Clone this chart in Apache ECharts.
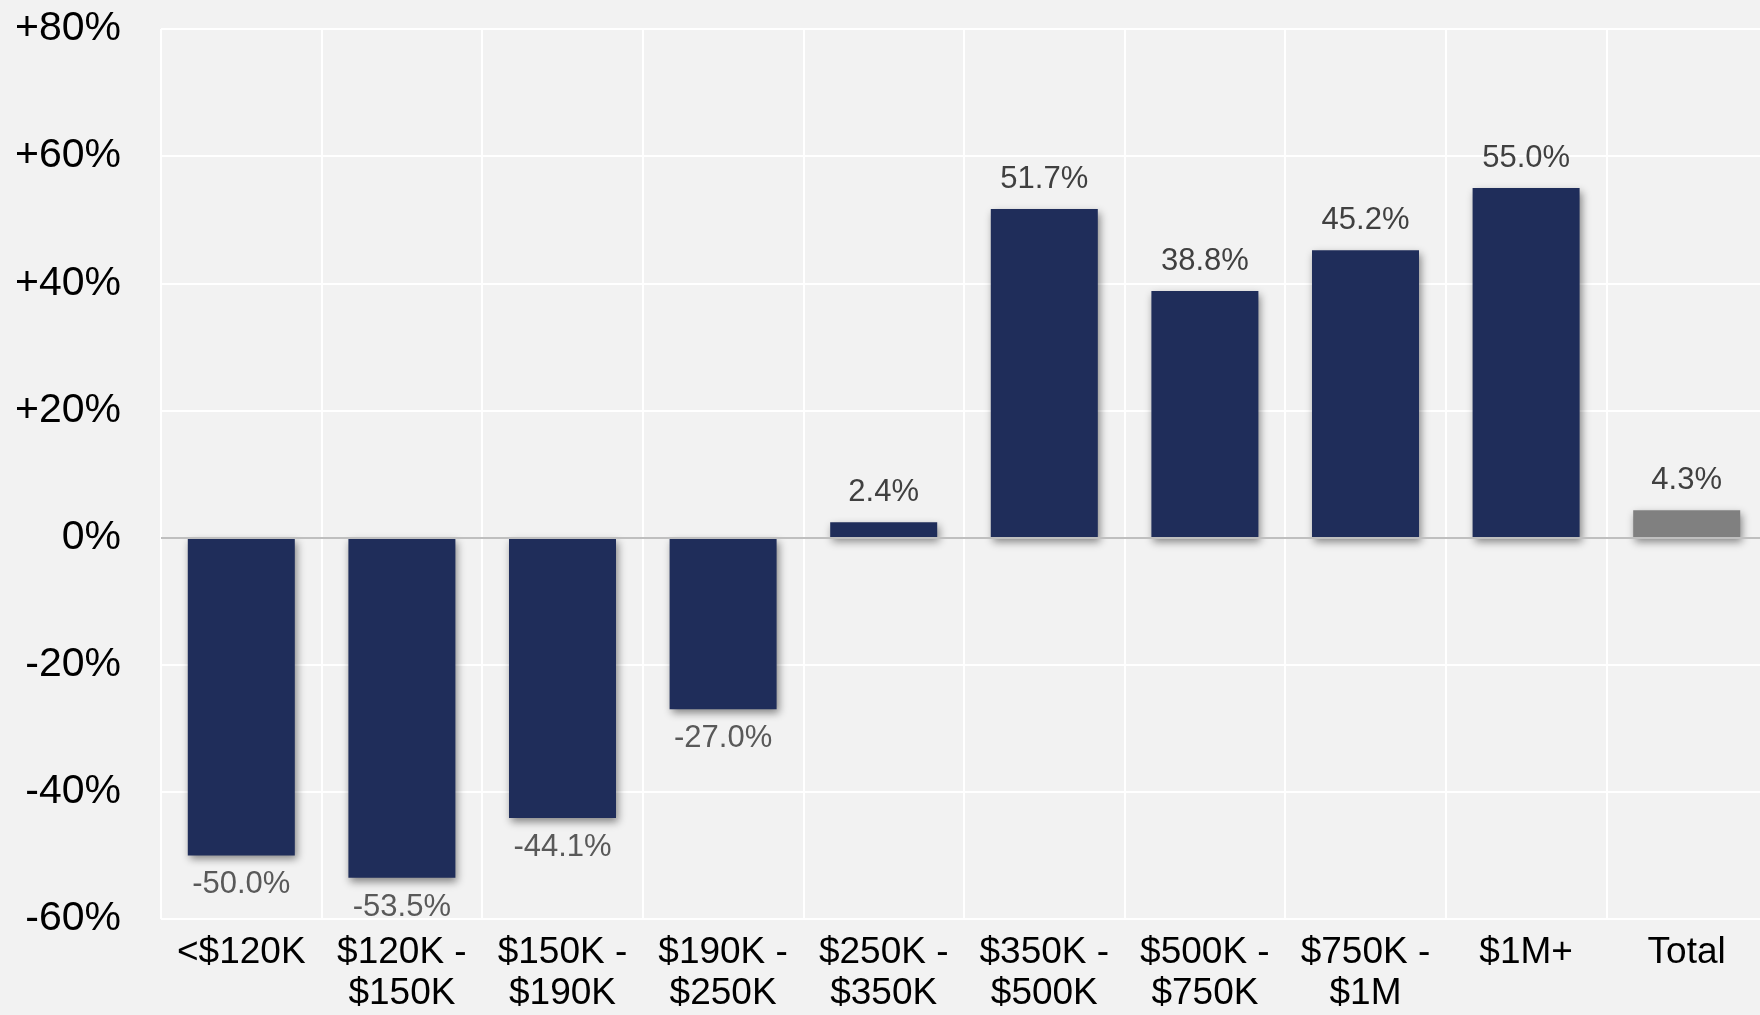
<!DOCTYPE html>
<html>
<head>
<meta charset="utf-8">
<script src="https://cdn.jsdelivr.net/npm/echarts@6/dist/echarts.min.js"></script>
<style>
    html, body { margin: 0; padding: 0; background: #f2f2f2; overflow: hidden; }
    /* the plot runs a few pixels past the right edge of the picture */
    #chart { width: 1767px; height: 1015px; }
</style>
</head>
<body>
<div id="chart"></div>
<script>
    // categories and values
    var categories = ['<$120K', '$120K -\n$150K', '$150K -\n$190K', '$190K -\n$250K', '$250K -\n$350K',
        '$350K -\n$500K', '$500K -\n$750K', '$750K -\n$1M', '$1M+', 'Total'];
    var changes = [-50.0, -53.5, -44.1, -27.0, 2.4, 51.7, 38.8, 45.2, 55.0, 4.3];
    var totalName = 'Total';

    var font = "'Liberation Sans', Arial, sans-serif";

    var barData = [];
    for (var i = 0; i < changes.length; i++) {
        var v = changes[i];
        barData.push({
            value: v,
            itemStyle: { color: categories[i] == totalName ? '#808080' : '#1f2d5a' },
            label: {
                position: v < 0 ? 'bottom' : 'top',
                color: v < 0 ? '#595959' : '#404040'
            }
        });
    }

    var chart = echarts.init(document.getElementById('chart'));
    chart.setOption({
        backgroundColor: '#f2f2f2',
        animation: false,
        grid: { left: 161, right: 0, top: 29, bottom: 96 },
        xAxis: {
            type: 'category',
            data: categories,
            axisLine: { show: false },
            axisTick: { show: false },
            splitLine: { show: true, interval: 0, lineStyle: { color: '#ffffff', width: 2 } },
            axisLabel: {
                interval: 0,
                margin: 13,
                fontFamily: font,
                fontSize: 37,
                lineHeight: 41,
                color: '#000000'
            }
        },
        yAxis: {
            type: 'value',
            min: -60,
            max: 80,
            interval: 20,
            axisLine: { show: false },
            axisTick: { show: false },
            splitLine: { lineStyle: { color: '#ffffff', width: 2 } },
            axisLabel: {
                margin: 40,
                fontFamily: font,
                fontSize: 41,
                color: '#000000',
                formatter: function (v) {
                    return (v > 0 ? '+' : '') + v + '%';
                }
            }
        },
        series: [{
            type: 'bar',
            data: barData,
            barWidth: 107,
            itemStyle: {
                shadowBlur: 8,
                shadowOffsetX: 2,
                shadowOffsetY: 4,
                shadowColor: 'rgba(0,0,0,0.45)'
            },
            label: {
                show: true,
                distance: 14,
                fontFamily: font,
                fontSize: 31,
                formatter: function (p) {
                    return p.value.toFixed(1) + '%';
                }
            },
            markLine: {
                silent: true,
                symbol: 'none',
                label: { show: false },
                lineStyle: { color: '#bfbfbf', width: 2, type: 'solid' },
                data: [{ yAxis: 0 }]
            }
        }]
    });
</script>
</body>
</html>
